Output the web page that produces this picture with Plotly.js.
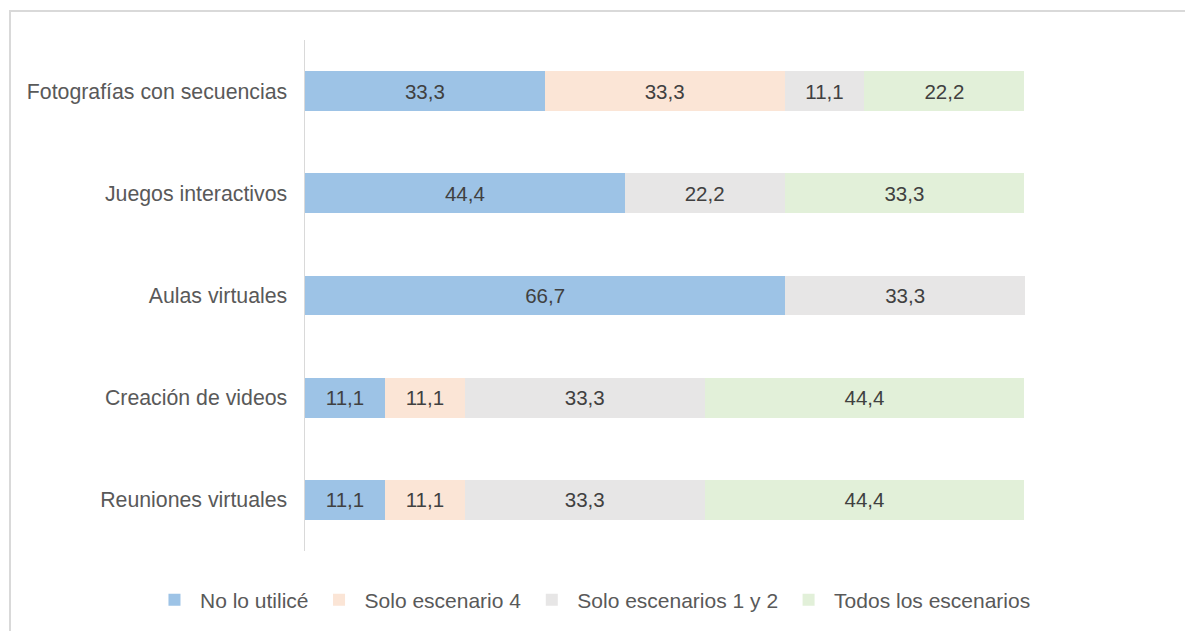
<!DOCTYPE html>
<html>
<head>
<meta charset="utf-8">
<script src="https://cdn.plot.ly/plotly-3.0.1.min.js"></script>
<style>
  html, body { margin: 0; padding: 0; background: #ffffff; overflow: hidden; }
  #frame { position: absolute; left: 9px; top: 10px; width: 1300px; height: 700px; border: 2px solid #d9d9d9; box-sizing: border-box; }
  #chart { position: absolute; left: 0; top: 0; width: 1185px; height: 631px; }
</style>
</head>
<body>
<div id="frame"></div>
<div id="chart"></div>
<script>
const categories = ["Fotografías con secuencias", "Juegos interactivos", "Aulas virtuales", "Creación de videos", "Reuniones virtuales"];
const seriesNames = ["No lo utilicé", "Solo escenario 4", "Solo escenarios 1 y 2", "Todos los escenarios"];
const noLoUtilice = [33.3, 44.4, 66.7, 11.1, 11.1];
const soloEscenario4 = [33.3, null, null, 11.1, 11.1];
const soloEscenarios12 = [11.1, 22.2, 33.3, 33.3, 33.3];
const todosEscenarios = [22.2, 33.3, null, 44.4, 44.4];
const colors = ["#9dc3e6", "#fbe5d6", "#e7e6e6", "#e2f0d9"];

const FONT = "Liberation Sans, Arial, sans-serif";
const values = [noLoUtilice, soloEscenario4, soloEscenarios12, todosEscenarios];
const traces = values.map((v, i) => ({
  type: "bar",
  orientation: "h",
  name: seriesNames[i],
  y: categories,
  x: v,
  marker: { color: colors[i], line: { width: 0 } },
  texttemplate: "%{x:.1f}",
  textposition: "inside",
  insidetextanchor: "middle",
  textangle: 0,
  constraintext: "none",
  textfont: { family: FONT, size: 20.5, color: "#404040" },
  hoverinfo: "skip"
}));

const layout = {
  width: 1185,
  height: 631,
  paper_bgcolor: "rgba(0,0,0,0)",
  plot_bgcolor: "rgba(0,0,0,0)",
  barmode: "stack",
  bargap: 0.61,
  separators: ",.",
  margin: { l: 305, r: 160, t: 40, b: 80, autoexpand: false },
  font: { family: FONT, size: 21, color: "#595959" },
  xaxis: { range: [0, 100], showticklabels: false, showgrid: false, zeroline: false, showline: false, fixedrange: true },
  yaxis: {
    type: "category",
    autorange: "reversed",
    showline: true,
    linecolor: "#d9d9d9",
    linewidth: 1.5,
    showgrid: false,
    zeroline: false,
    ticks: "",
    ticklabelstandoff: 12,
    tickfont: { family: FONT, size: 21.3, color: "#595959" }
  },
  showlegend: true,
  legend: {
    orientation: "h",
    x: -0.2167,
    xanchor: "left",
    y: -0.096,
    yanchor: "middle",
    itemwidth: 41,
    traceorder: "normal",
    font: { family: FONT, size: 21, color: "#595959" },
    itemclick: false,
    itemdoubleclick: false
  }
};

Plotly.newPlot("chart", traces, layout, { displayModeBar: false, staticPlot: true });
</script>
</body>
</html>
